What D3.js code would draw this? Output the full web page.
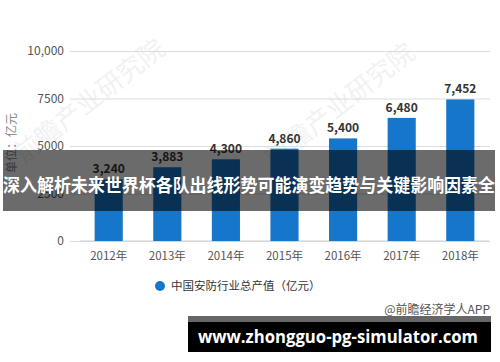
<!DOCTYPE html>
<html>
<head>
<meta charset="utf-8">
<script src="https://cdn.jsdelivr.net/npm/d3@7"></script>
<style>
  html, body { margin: 0; padding: 0; background: #fff; }
  svg { display: block; }
</style>
</head>
<body>
<div class="chart-container"></div>
<script>
//! DATA
const YEARS = ['2012年', '2013年', '2014年', '2015年', '2016年', '2017年', '2018年'];
const VALUES = [3240, 3883, 4300, 4860, 5400, 6480, 7452];
const Y_TICKS = [0, 2500, 5000, 7500, 10000];
const Y_TICK_LABELS = ['0', '2500', '5000', '7500', '10,000'];
const SERIES_NAME = '中国安防行业总产值（亿元）';
const UNIT_LABEL = '单位：亿元';
const SOURCE = '@前瞻经济学人APP';
const HEADLINE = '深入解析未来世界杯各队出线形势可能演变趋势与关键影响因素全';
const SITE = 'www.zhongguo-pg-simulator.com';
const WATERMARK = '前瞻产业研究院';

//! CONSTS
const WIDTH = 500;
const HEIGHT = 362;
const BLUE = '#1676c9';
const CJK = '"Noto Sans CJK SC", "Noto Sans", sans-serif';

//! SVG
const svg = d3.select('.chart-container')
  .append('svg')
  .attr('width', WIDTH)
  .attr('height', HEIGHT);

//! SCALES
const x = d3.scaleBand()
  .domain(YEARS)
  .range([80, 489])
  .paddingInner(0.52)
  .paddingOuter(0.25);

const y = d3.scaleLinear()
  .domain([0, 10000])
  .range([241, 51]);

// faint watermarks
[[95, 108], [345, 112]].forEach(([cx, cy]) => {
  svg.append('text')
    .attr('transform', `translate(${cx},${cy}) rotate(-38)`)
    .attr('text-anchor', 'middle')
    .attr('font-family', CJK)
    .attr('font-size', 26)
    .attr('fill', '#000')
    .attr('opacity', 0.05)
    .text(WATERMARK);
});

// gridlines + y labels
const yAxis = d3.axisLeft(y)
  .tickValues(Y_TICKS)
  .tickSize(-(490 - 70))
  .tickPadding(6)
  .tickFormat((d, i) => Y_TICK_LABELS[i]);

const gy = svg.append('g')
  .attr('transform', 'translate(70,0)')
  .call(yAxis);
gy.select('.domain').remove();
gy.selectAll('line').attr('stroke', '#dcdcdc');
gy.selectAll('text')
  .attr('font-family', CJK)
  .attr('font-size', 12)
  .attr('fill', '#555');

// x axis
const xAxis = d3.axisBottom(x).tickSize(0).tickPadding(11);
const gx = svg.append('g')
  .attr('transform', `translate(0,${y(0)})`)
  .call(xAxis);
gx.select('.domain').attr('stroke', '#cfcfcf').attr('d', 'M80,0H489');
gx.selectAll('text')
  .attr('font-family', CJK)
  .attr('font-size', 11.5)
  .attr('fill', '#555');

// unit label
svg.append('text')
  .attr('transform', 'translate(16,143) rotate(-90)')
  .attr('text-anchor', 'middle')
  .attr('font-family', CJK)
  .attr('font-size', 12)
  .attr('fill', '#888')
  .text(UNIT_LABEL);

// bars
svg.append('g')
  .selectAll('rect')
  .data(VALUES)
  .enter()
  .append('rect')
  .attr('x', (d, i) => x(YEARS[i]))
  .attr('y', d => y(d))
  .attr('width', x.bandwidth())
  .attr('height', d => y(0) - y(d))
  .attr('fill', BLUE);

// value labels
svg.append('g')
  .selectAll('text')
  .data(VALUES)
  .enter()
  .append('text')
  .attr('x', (d, i) => x(YEARS[i]) + x.bandwidth() / 2)
  .attr('y', d => y(d) - 6)
  .attr('text-anchor', 'middle')
  .attr('font-family', CJK)
  .attr('font-weight', 'bold')
  .attr('font-size', 12)
  .attr('fill', '#333')
  .text(d3.format(','));

// legend
svg.append('circle')
  .attr('cx', 160).attr('cy', 286).attr('r', 5)
  .attr('fill', BLUE);
svg.append('text')
  .attr('x', 171).attr('y', 290)
  .attr('font-family', CJK)
  .attr('font-size', 11.5)
  .attr('fill', '#333')
  .text(SERIES_NAME);

// source
svg.append('text')
  .attr('x', 490).attr('y', 314)
  .attr('text-anchor', 'end')
  .attr('font-family', CJK)
  .attr('font-size', 12)
  .attr('fill', '#555')
  .text(SOURCE);

// headline overlay
svg.append('rect')
  .attr('x', 3).attr('y', 150)
  .attr('width', 492).attr('height', 61)
  .attr('fill', '#000')
  .attr('opacity', 0.58);
svg.append('text')
  .attr('x', 3).attr('y', 192)
  .attr('font-family', CJK)
  .attr('font-weight', 'bold')
  .attr('font-size', 18)
  .attr('fill', '#fff')
  .attr('textLength', 492)
  .attr('lengthAdjust', 'spacingAndGlyphs')
  .text(HEADLINE);

// site banner
svg.append('rect')
  .attr('x', 188).attr('y', 316)
  .attr('width', 303).attr('height', 6)
  .attr('fill', '#666');
svg.append('rect')
  .attr('x', 188).attr('y', 322)
  .attr('width', 303).attr('height', 30)
  .attr('fill', '#000');
svg.append('text')
  .attr('x', 198).attr('y', 343)
  .attr('font-family', '"Open Sans", sans-serif')
  .attr('font-weight', 'bold')
  .attr('font-size', 18)
  .attr('fill', '#fff')
  .attr('textLength', 280)
  .attr('lengthAdjust', 'spacingAndGlyphs')
  .text(SITE);
</script>
</body>
</html>
